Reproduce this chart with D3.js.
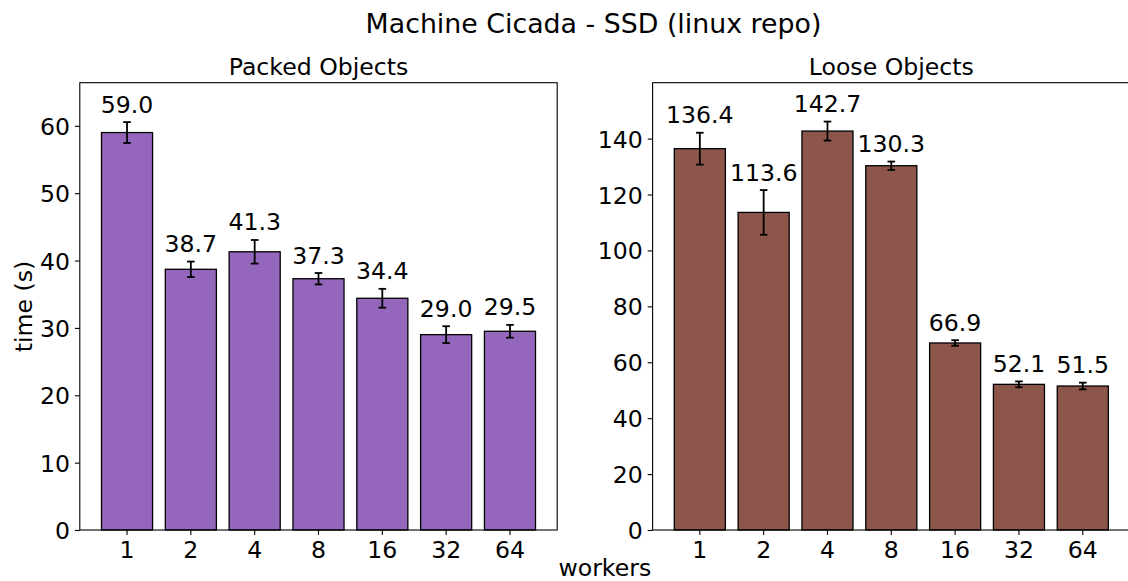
<!DOCTYPE html>
<html>
<head>
<meta charset="utf-8">
<script src="https://cdn.jsdelivr.net/npm/d3@7"></script>
<style>
  html, body { margin: 0; padding: 0; background: #fff; }
  svg { display: block; font-family: "DejaVu Sans", sans-serif; }
</style>
</head>
<body>
<svg id="chart" width="1128" height="581"></svg>
<script>
// ---- data ----
const workers = ["1", "2", "4", "8", "16", "32", "64"];
const packedTimes = [59.0, 38.7, 41.3, 37.3, 34.4, 29.0, 29.5];
const packedErr = [1.55, 1.15, 1.75, 0.85, 1.4, 1.25, 0.95];
const looseTimes = [136.4, 113.6, 142.7, 130.3, 66.9, 52.1, 51.5];
const looseErr = [5.7, 8.0, 3.4, 1.5, 1.0, 1.05, 1.2];
const packedTicks = [0, 10, 20, 30, 40, 50, 60];
const looseTicks = [0, 20, 40, 60, 80, 100, 120, 140];
const packedMax = 66.4;
const looseMax = 160;

const mainTitle = "Machine Cicada - SSD (linux repo)";
const panelTitles = ["Packed Objects", "Loose Objects"];
const xLabel = "workers";
const yLabel = "time (s)";

// ---- layout ----
const svg = d3.select("#chart");
const FS = 23.6;
const plotTop = 82.7, plotBottom = 530;

const panels = [
  { x0: 79.8, x1: 557.2, vals: packedTimes, errs: packedErr, ticks: packedTicks, ymax: packedMax, color: "#9467bd", title: panelTitles[0] },
  { x0: 652.6, x1: 1130, vals: looseTimes, errs: looseErr, ticks: looseTicks, ymax: looseMax, color: "#8c564b", title: panelTitles[1] }
];

panels.forEach(p => {
  const x = d3.scaleBand().domain(workers).range([p.x0, p.x1]).paddingInner(0.2).paddingOuter(0.34);
  const y = d3.scaleLinear().domain([0, p.ymax]).range([plotBottom, plotTop]);
  const g = svg.append("g");

  // bars
  g.selectAll("rect.bar").data(workers).join("rect")
    .attr("class", "bar")
    .attr("x", d => x(d))
    .attr("width", x.bandwidth())
    .attr("y", (d, i) => y(p.vals[i]))
    .attr("height", (d, i) => y(0) - y(p.vals[i]))
    .attr("fill", p.color)
    .attr("stroke", "#000")
    .attr("stroke-width", 1.3);

  // error bars
  const cx = d => x(d) + x.bandwidth() / 2;
  const eb = g.selectAll("g.err").data(workers).join("g").attr("class", "err")
    .attr("stroke", "#000").attr("stroke-width", 1.8);
  eb.append("line")
    .attr("x1", cx).attr("x2", cx)
    .attr("y1", (d, i) => y(p.vals[i] - p.errs[i]))
    .attr("y2", (d, i) => y(p.vals[i] + p.errs[i]));
  [-1, 1].forEach(s => {
    eb.append("line")
      .attr("x1", d => cx(d) - 3.8).attr("x2", d => cx(d) + 3.8)
      .attr("y1", (d, i) => y(p.vals[i] + s * p.errs[i]))
      .attr("y2", (d, i) => y(p.vals[i] + s * p.errs[i]));
  });

  // value labels
  g.selectAll("text.val").data(workers).join("text")
    .attr("class", "val")
    .attr("x", cx)
    .attr("y", (d, i) => y(p.vals[i] + p.errs[i]) - 9.5)
    .attr("text-anchor", "middle")
    .attr("font-size", FS)
    .attr("fill", "#000")
    .text((d, i) => p.vals[i].toFixed(1));

  // axes
  const xAxis = d3.axisBottom(x).tickSize(4.9).tickPadding(5.5);
  const gx = g.append("g").attr("transform", `translate(0,${plotBottom})`).call(xAxis);
  gx.select(".domain").remove();
  gx.selectAll(".tick line").attr("stroke", "#000").attr("stroke-width", 1.1);
  gx.selectAll(".tick text").attr("font-size", FS).attr("font-family", "DejaVu Sans").attr("fill", "#000").attr("dy", "0.73em");

  const yAxis = d3.axisLeft(y).tickValues(p.ticks).tickFormat(d3.format("d")).tickSize(4.9).tickPadding(5);
  const gy = g.append("g").attr("transform", `translate(${p.x0},0)`).call(yAxis);
  gy.select(".domain").remove();
  gy.selectAll(".tick line").attr("stroke", "#000").attr("stroke-width", 1.1);
  gy.selectAll(".tick text").attr("font-size", FS).attr("font-family", "DejaVu Sans").attr("fill", "#000").attr("dy", "0.36em");

  // frame
  g.append("rect")
    .attr("x", p.x0).attr("y", plotTop)
    .attr("width", p.x1 - p.x0).attr("height", plotBottom - plotTop)
    .attr("fill", "none").attr("stroke", "#000").attr("stroke-width", 1.1);

  // panel title
  g.append("text")
    .attr("x", (p.x0 + p.x1) / 2).attr("y", 75)
    .attr("text-anchor", "middle").attr("font-size", FS).attr("fill", "#000")
    .text(p.title);
});

// figure title and labels
svg.append("text").attr("x", 593.5).attr("y", 32.5)
  .attr("text-anchor", "middle").attr("font-size", 26.8).attr("fill", "#000")
  .text(mainTitle);
svg.append("text").attr("x", 604.8).attr("y", 576)
  .attr("text-anchor", "middle").attr("font-size", FS).attr("fill", "#000")
  .text(xLabel);
svg.append("text")
  .attr("transform", "translate(31.7,306.5) rotate(-90)")
  .attr("text-anchor", "middle").attr("font-size", FS).attr("fill", "#000")
  .text(yLabel);
</script>
</body>
</html>
